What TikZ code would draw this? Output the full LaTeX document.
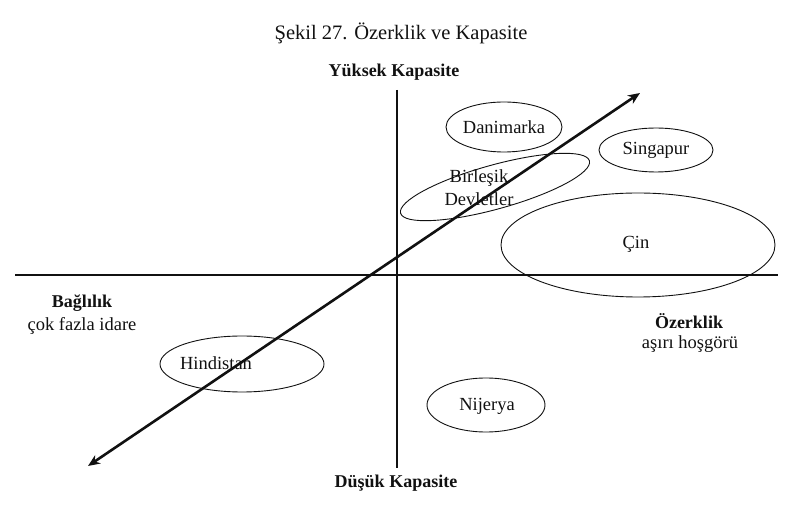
\documentclass[tikz,border=0pt]{standalone}
\usepackage{fontspec}
\setmainfont{Liberation Serif}
\usetikzlibrary{arrows.meta}
\definecolor{kapfg}{HTML}{111111}

\begin{document}
\begin{tikzpicture}[x=1pt,y=-1pt,font=\rmfamily]
  \tikzstyle{axis}=[draw=kapfg, line width=1.3pt]
  \tikzstyle{ring}=[draw=kapfg, line width=0.9pt]
  \tikzstyle{trend}=[draw=kapfg, line width=2.6pt, {Stealth[length=12pt,width=10pt]}-{Stealth[length=12pt,width=10pt]}]
  \tikzstyle{label}=[font=\fontsize{18.5}{23}\selectfont, align=center, text=kapfg]
  \tikzstyle{pole}=[font=\fontsize{18}{20}\selectfont\bfseries, align=center, text=kapfg]

  \useasboundingbox (0,0) rectangle (798,518);

  \node[label, font=\fontsize{20.5}{22}\selectfont] (title) at (401,33) {Şekil 27. Özerklik ve Kapasite};

  % axes
  \draw[axis] (397,90) -- (397,468);
  \draw[axis] (15,275) -- (778,275);
  \node[pole] (high) at (394,72) {Yüksek Kapasite};
  \node[pole] (low) at (396,483) {Düşük Kapasite};
  \node[pole] (dep) at (82,303) {Bağlılık};
  \node[label] (depsub) at (82,326) {çok fazla idare};
  \node[pole] (auto) at (689,321) {Özerklik};
  \node[label] (autosub) at (690,344) {aşırı hoşgörü};

  % countries
  \draw[ring] (504,127) ellipse (58 and 25);
  \node[label] (dk) at (504,127) {Danimarka};
  \draw[ring] (656,150) ellipse (57 and 22);
  \node[label] (sg) at (656,150) {Singapur};
  \draw[ring, rotate around={15.5:(495,187)}] (495,187) ellipse (98 and 22);
  \node[label] (us) at (479,188) {Birleşik\\Devletler};
  \draw[ring] (638,245) ellipse (137 and 52);
  \node[label] (cn) at (636,244) {Çin};
  \draw[ring] (242,364) ellipse (82 and 28);
  \node[label] (in) at (216,363) {Hindistan};
  \draw[ring] (486,405) ellipse (59 and 27);
  \node[label] (ng) at (487,406) {Nijerya};

  % trend
  \coordinate (tl) at (88,466);
  \coordinate (tr) at (640,93);
  \draw[trend] (tl) -- (tr);
\end{tikzpicture}
\end{document}
